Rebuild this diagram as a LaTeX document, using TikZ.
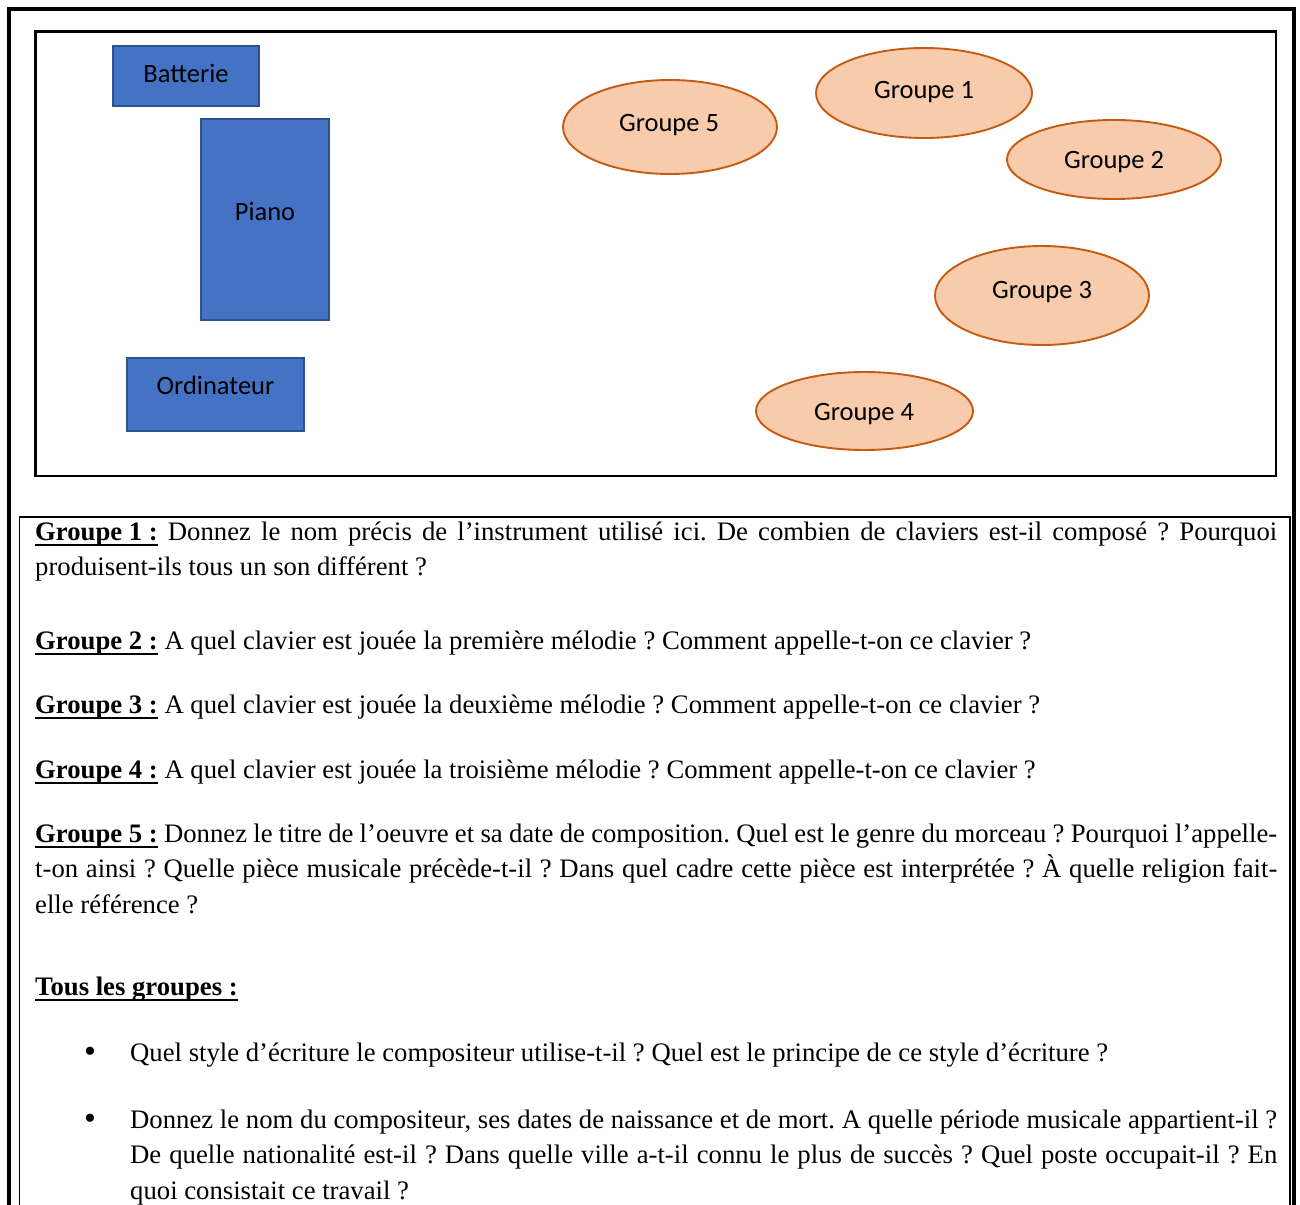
\documentclass[tikz,border=0pt]{standalone}
\usepackage{fontspec}
\setmainfont{Liberation Serif}
\newfontfamily\calibri{Carlito}
\usetikzlibrary{shapes.geometric}
\frenchspacing

\definecolor{instrFill}{HTML}{4472C4}
\definecolor{instrEdge}{HTML}{2F528F}
\definecolor{groupFill}{HTML}{F8CBAD}
\definecolor{groupEdge}{HTML}{C55A11}

% bold heading with a fixed-depth underline crossing the descenders
\newcommand\headul[1]{\setbox0\hbox{\bfseries #1}\rlap{\rule[-6pt]{\wd0}{2.2pt}}\box0\relax}

\tikzset{
  outerframe/.style={draw=black, line width=4pt},
  plotframe/.style={draw=black, line width=2.4pt},
  textframe/.style={draw=black, line width=1.6pt},
  instr/.style={rectangle, draw=instrEdge, fill=instrFill, line width=1.9pt, inner sep=0pt},
  grp/.style={ellipse, draw=groupEdge, fill=groupFill, line width=1.9pt, inner sep=0pt},
  lbl/.style={anchor=base, inner sep=0pt, font=\calibri\fontsize{26.5}{30}\selectfont},
  para/.style={anchor=base west, inner sep=0pt, text width=1242pt, align=justify,
    font=\fontsize{26.7}{35.5}\selectfont},
  bulletpara/.style={para, text width=1147pt},
  bulletmark/.style={anchor=base, inner sep=0pt, font=\fontsize{34}{35.5}\selectfont},
}

\begin{document}
\begin{tikzpicture}[x=1pt, y=-1pt]
  \useasboundingbox (0,0) rectangle (1300,1204);
  \fill[white] (0,0) rectangle (1300,1204);
  \clip (0,0) rectangle (1300,1204);

  % page frames
  \draw[outerframe] (8.5,9) rectangle (1293.5,1260);
  \draw[plotframe] (35.5,31.5) rectangle (1276,476);
  \draw[textframe] (19.5,517) rectangle (1290,1260);

  % instruments
  \node[instr, minimum width=146pt, minimum height=60pt] (batterie) at (186,76) {};
  \node[lbl] (batterieL) at (186,82.5) {Batterie};
  \node[instr, minimum width=128pt, minimum height=201pt] (piano) at (265,219.5) {};
  \node[lbl] (pianoL) at (265,220.5) {Piano};
  \node[instr, minimum width=177pt, minimum height=73pt] (ordi) at (215.5,394.5) {};
  \node[lbl] (ordiL) at (215.5,394) {Ordinateur};

  % groups
  \node[grp, minimum width=214pt, minimum height=94pt] (g5) at (670,127) {};
  \node[lbl] (g5L) at (669,131.5) {Groupe 5};
  \node[grp, minimum width=216pt, minimum height=90pt] (g1) at (924,93) {};
  \node[lbl] (g1L) at (924,98.5) {Groupe 1};
  \node[grp, minimum width=214pt, minimum height=79pt] (g2) at (1114,159.5) {};
  \node[lbl] (g2L) at (1114,168.5) {Groupe 2};
  \node[grp, minimum width=214pt, minimum height=99pt] (g3) at (1042,295.5) {};
  \node[lbl] (g3L) at (1042,298.5) {Groupe 3};
  \node[grp, minimum width=217pt, minimum height=78pt] (g4) at (864.5,411) {};
  \node[lbl] (g4L) at (864,420.5) {Groupe 4};

  % questions
  \node[para] (q1) at (35,540) {\headul{Groupe 1 :} Donnez le nom précis de l’instrument utilisé ici. De combien de claviers est-il composé~? Pourquoi\linebreak produisent-ils tous un son différent~?};
  \node[para] (q2) at (35,649) {\headul{Groupe 2 :} A quel clavier est jouée la première mélodie~? Comment appelle-t-on ce clavier~?};
  \node[para] (q3) at (35,713) {\headul{Groupe 3 :} A quel clavier est jouée la deuxième mélodie~? Comment appelle-t-on ce clavier~?};
  \node[para] (q4) at (35,778) {\headul{Groupe 4 :} A quel clavier est jouée la troisième mélodie~? Comment appelle-t-on ce clavier~?};
  \node[para] (q5) at (35,842) {\headul{Groupe 5 :} Donnez le titre de l’oeuvre et sa date de composition. Quel est le genre du morceau~? Pourquoi l’appelle-\linebreak t-on ainsi~? Quelle pièce musicale précède-t-il~? Dans quel cadre cette pièce est interprétée~? À quelle religion fait-\linebreak elle référence~?};

  \node[para] (tous) at (35,995) {\headul{Tous les groupes :}};

  \node[bulletmark] (b1) at (90,1062) {•};
  \node[bulletpara] (t1) at (130,1061) {Quel style d’écriture le compositeur utilise-t-il~? Quel est le principe de ce style d’écriture~?};
  \node[bulletmark] (b2) at (90,1129) {•};
  \node[bulletpara] (t2) at (130,1128) {Donnez le nom du compositeur, ses dates de naissance et de mort. A quelle période musicale appartient-il~?\linebreak De quelle nationalité est-il~? Dans quelle ville a-t-il connu le plus de succès~? Quel poste occupait-il~? En\linebreak quoi consistait ce travail~?};
\end{tikzpicture}
\end{document}
